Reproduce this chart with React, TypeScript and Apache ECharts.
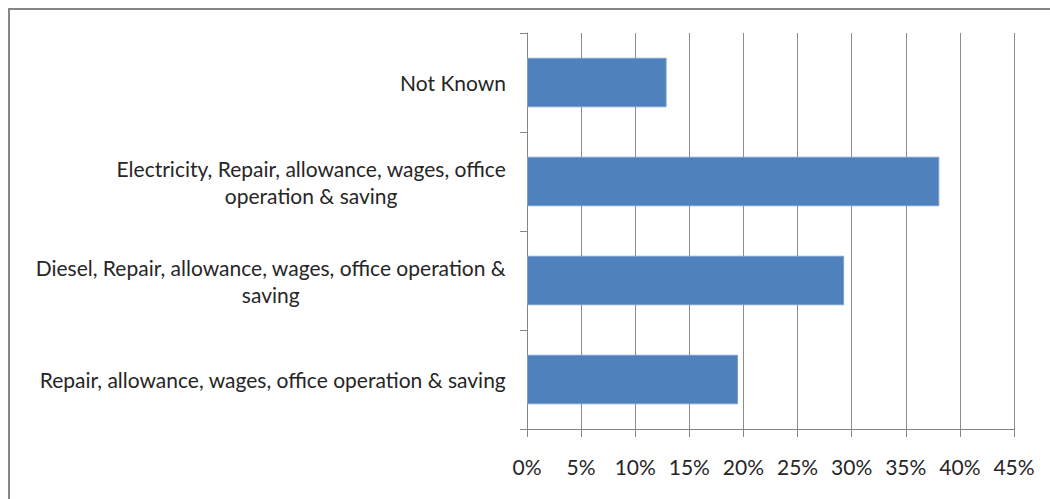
import React, { useEffect, useRef } from "react";
import * as echarts from "echarts";

const categories: string[] = [
  "Not Known",
  "Electricity, Repair, allowance, wages, office\noperation & saving",
  "Diesel, Repair, allowance, wages, office operation &\nsaving",
  "Repair, allowance, wages, office operation & saving",
];
const values: number[] = [12.9, 38.1, 29.3, 19.5];
const xTicks = { min: 0, max: 45, interval: 5 };

const FONT = "Lato, 'Open Sans', sans-serif";
const FS = 21;

export default function App() {
  const ref = useRef<HTMLDivElement>(null);
  useEffect(() => {
    if (!ref.current) return;
    const chart = echarts.init(ref.current, undefined, { renderer: "svg" });
    chart.setOption({
      animation: false,
      backgroundColor: "#ffffff",
      graphic: [
        {
          type: "rect",
          shape: { x: 9, y: 9, width: 1100, height: 600 },
          style: { fill: "none", stroke: "#868686", lineWidth: 2 },
          silent: true,
        },
      ],
      grid: { left: 527, top: 33, right: 36, bottom: 70, containLabel: false },
      xAxis: {
        type: "value",
        min: xTicks.min,
        max: xTicks.max,
        interval: xTicks.interval,
        axisLine: { show: true, lineStyle: { color: "#868686", width: 1 } },
        axisTick: { show: true, length: 8, lineStyle: { color: "#868686" } },
        splitLine: { show: true, lineStyle: { color: "#8c8c8c", width: 1 } },
        axisLabel: {
          formatter: "{value}%",
          color: "#262626",
          fontFamily: FONT,
          fontSize: FS,
          margin: 27,
        },
      },
      yAxis: {
        type: "category",
        inverse: true,
        data: categories,
        axisLine: { show: true, lineStyle: { color: "#868686", width: 1 } },
        axisTick: { show: true, length: 7, lineStyle: { color: "#868686" } },
        axisLabel: {
          margin: 21,
          color: "#262626",
          fontFamily: FONT,
          fontSize: FS,
          lineHeight: 27,
          formatter: (v: string) =>
            v
              .split("\n")
              .map((l) => `{a|${l}}`)
              .join("\n"),
          rich: {
            a: { align: "center", fontFamily: FONT, fontSize: FS, color: "#262626", lineHeight: 27 },
          },
        },
      },
      series: [
        {
          type: "bar",
          data: values,
          barWidth: "50%",
          itemStyle: { color: "#4f81bd", borderColor: "#7aa0d0", borderWidth: 1 },
        },
      ],
    });
    return () => chart.dispose();
  }, []);
  return (
    <div
      ref={ref}
      style={{ position: "absolute", left: 0, top: 0, width: 1050, height: 499 }}
    />
  );
}
